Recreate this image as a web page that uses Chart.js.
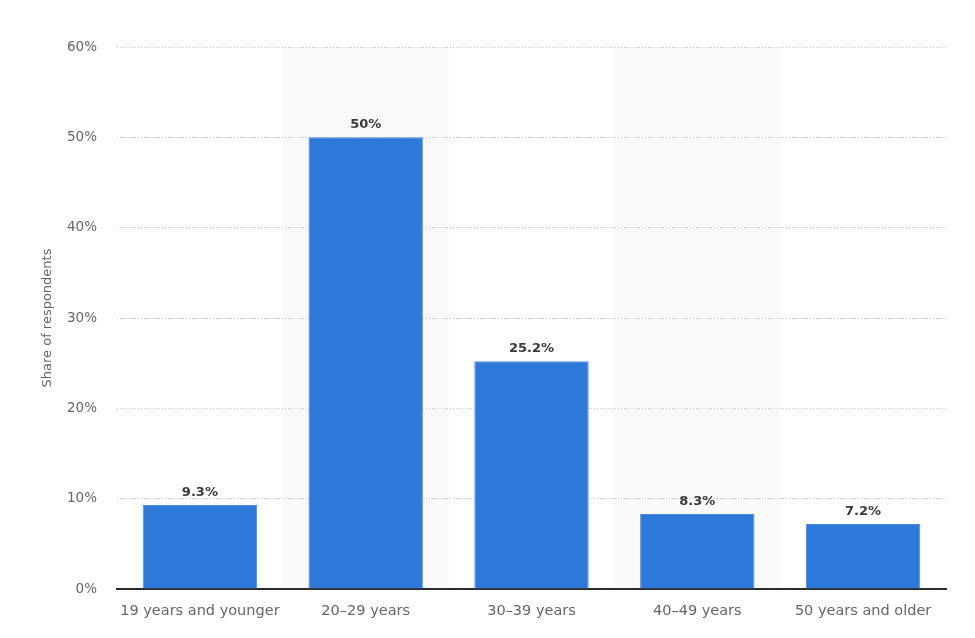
<!DOCTYPE html>
<html>
<head>
<meta charset="utf-8">
<script src="https://cdn.jsdelivr.net/npm/chart.js@4"></script>
<style>
  html, body { margin: 0; padding: 0; background: #fff; }
  #wrap { width: 975px; height: 638px; }
</style>
</head>
<body>
<div id="wrap"><canvas id="ageCanvas"></canvas></div>
<script>
const categories = ['19 years and younger', '20-29 years', '30-39 years', '40-49 years', '50 years and older'];
const shares = [9.3, 50, 25.2, 8.3, 7.2];
const shareLabels = ['9.3%', '50%', '25.2%', '8.3%', '7.2%'];
const yTicks = [0, 10, 20, 30, 40, 50, 60];

const FONT = '"DejaVu Sans", "Noto Sans", sans-serif';

// light grey band behind every second category, drawn before grid and axes
const bandPlugin = {
    id: 'bands',
    beforeDraw(chart) {
        const x = chart.scales.x, area = chart.chartArea, ctx = chart.ctx;
        const step = x.getPixelForValue(1) - x.getPixelForValue(0);
        ctx.save();
        ctx.fillStyle = '#f9f9f9';
        categories.forEach((c, i) => {
            if (i % 2 === 1) {
                const cx = x.getPixelForValue(i);
                ctx.fillRect(cx - step / 2, area.top, step, area.bottom - area.top);
            }
        });
        ctx.restore();
    }
};

// value labels above bars
const valueLabels = {
    id: 'valueLabels',
    afterDatasetsDraw(chart) {
        const ctx = chart.ctx;
        const meta = chart.getDatasetMeta(0);
        ctx.save();
        ctx.font = 'bold 13px ' + FONT;
        ctx.fillStyle = '#3a3a3a';
        ctx.textAlign = 'center';
        ctx.textBaseline = 'bottom';
        meta.data.forEach((bar, i) => {
            ctx.fillText(shareLabels[i], bar.x, bar.y - 6);
        });
        ctx.restore();
    }
};

const ctxAge = document.getElementById('ageCanvas').getContext('2d');
const ageChart = new Chart(ctxAge, {
    type: 'bar',
    data: {
        labels: categories,
        datasets: [{
            label: 'Share of respondents',
            data: shares,
            backgroundColor: '#2e78da',
            borderColor: '#4a8ae0',
            borderWidth: 1,
            categoryPercentage: 0.69,
            barPercentage: 1
        }]
    },
    options: {
        responsive: true,
        maintainAspectRatio: false,
        animation: false,
        layout: { padding: { left: 0, right: 29, top: 47, bottom: 0 } },
        plugins: {
            legend: { display: false },
            tooltip: { enabled: false }
        },
        scales: {
            x: {
                grid: { display: false, drawTicks: false },
                border: { display: true, color: '#2b2b2b', width: 2 },
                ticks: {
                    color: '#666',
                    font: { family: FONT, size: 14.5 },
                    padding: 14,
                    maxRotation: 0,
                    autoSkip: false,
                    callback: (v, i) => categories[i].replace('-', '\u2013')
                },
                afterFit(scale) { scale.height = 49; }
            },
            y: {
                min: 0,
                max: 60,
                afterBuildTicks(scale) { scale.ticks = yTicks.map(v => ({ value: v })); },
                grid: {
                    color: (c) => c.tick && c.tick.value === 0 ? 'rgba(0,0,0,0)' : '#c4c4c4',
                    drawTicks: false,
                    lineWidth: 1
                },
                border: { display: false, dash: [1, 2] },
                ticks: {
                    color: '#666',
                    font: { family: FONT, size: 13.5 },
                    padding: 20,
                    callback: v => v + '%'
                },
                title: {
                    display: true,
                    text: 'Share of respondents',
                    color: '#666',
                    font: { family: FONT, size: 13 },
                    padding: { top: 40, bottom: 0 }
                },
                afterFit(scale) { scale.width = 117; }
            }
        }
    },
    plugins: [bandPlugin, valueLabels]
});
</script>
</body>
</html>
